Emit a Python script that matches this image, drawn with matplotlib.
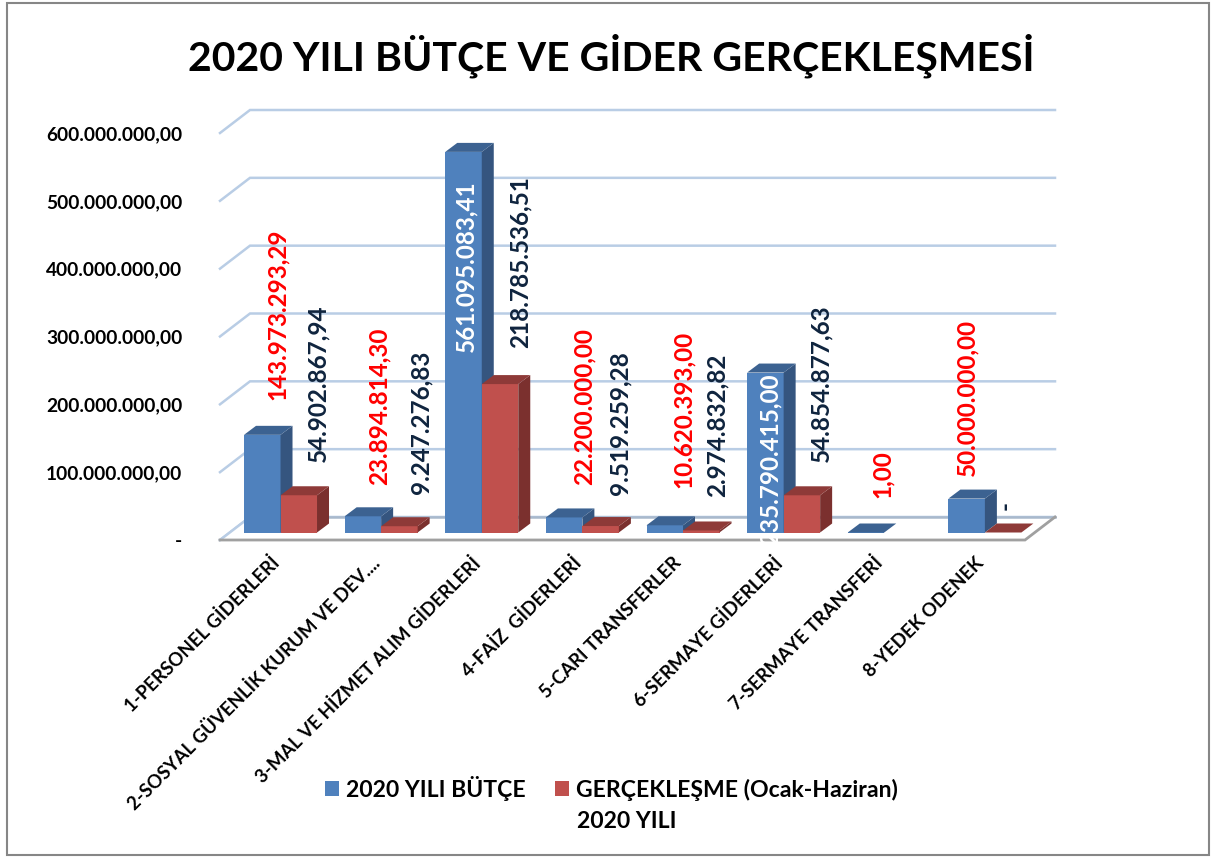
import numpy as np
import matplotlib
matplotlib.use("Agg")
import matplotlib.pyplot as plt
from matplotlib.patches import Patch, Polygon, Rectangle

categories = [
    "1-PERSONEL GİDERLERİ",
    "2-SOSYAL GÜVENLİK KURUM VE DEV....",
    "3-MAL VE HİZMET ALIM GİDERLERİ",
    "4-FAİZ  GİDERLERİ",
    "5-CARI TRANSFERLER",
    "6-SERMAYE GİDERLERİ",
    "7-SERMAYE TRANSFERİ",
    "8-YEDEK ODENEK",
]
butce = [143973293.29, 23894814.30, 561095083.41, 22200000.00,
         10620393.00, 235790415.00, 1.00, 50000000.00]
gerceklesme = [54902867.94, 9247276.83, 218785536.51, 9519259.28,
               2974832.82, 54854877.63, np.nan, 0.0]
butce_labels = ["143.973.293,29", "23.894.814,30", "561.095.083,41", "22.200.000,00",
                "10.620.393,00", "235.790.415,00", "1,00", "50.000.000,00"]
gercek_labels = ["54.902.867,94", "9.247.276,83", "218.785.536,51", "9.519.259,28",
                 "2.974.832,82", "54.854.877,63", "", "-"]
yticks = [0, 100e6, 200e6, 300e6, 400e6, 500e6, 600e6]
ytick_labels = ["-", "100.000.000,00", "200.000.000,00", "300.000.000,00",
                "400.000.000,00", "500.000.000,00", "600.000.000,00"]

# hand placed data labels, pixels from the top of the bar
butce_off = [(15, 35), (16, 31), (2, -200), (20, 32), (19, 37), (5, -172), (16, 34), (0, 23)]
gercek_off = [(19, 33), (22, 32), (20, 36), (19, 31), (16, 33), (19, 33), (0, 0), (2, 22)]

BLUE = ("#4f81bd", "#3c6291", "#35557f")
RED = ("#c0504d", "#8e3a38", "#7b302e")
GRID = "#b9cde5"
NAVY = "#0f243e"

W, H = 1217, 859
plt.rcParams["font.family"] = ["Lato", "DejaVu Sans"]
plt.rcParams["font.weight"] = "bold"

fig = plt.figure(figsize=(W / 100, H / 100), dpi=100)
left, right, top, bottom = 220, 1025, 133, 540
ax = fig.add_axes([left / W, 1 - bottom / H, (right - left) / W, (bottom - top) / H])
n = len(categories)
ax.set_xlim(-0.5, n - 0.5)
ax.set_ylim(0, 600e6)
for s in ax.spines.values():
    s.set_visible(False)
ax.patch.set_alpha(0)

px_x = n / (right - left)
px_y = 600e6 / (bottom - top)
back_x, back_y = 30 * px_x, 23 * px_y
dep_x, dep_y = 12 * px_x, 9 * px_y
shift_x, shift_y = 10.2 * px_x, 7.5 * px_y
bar_w = 36.5 * px_x

fig.add_artist(Rectangle((7 / W, 1 - 855 / H), 1202 / W, 852 / H, fill=False,
                         edgecolor="#868686", linewidth=1.5, transform=fig.transFigure))

x0, x1 = -0.5, n - 0.5
# walls
for t in yticks:
    ax.plot([x0, x0 + back_x, x1 + back_x], [t, t + back_y, t + back_y],
            color=GRID, lw=1.8, clip_on=False, zorder=1, solid_joinstyle="miter")
# floor
ax.add_patch(Polygon([(x0, 0), (x0 + back_x, back_y), (x1 + back_x, back_y), (x1, 0)],
                     closed=True, facecolor="white", edgecolor="none", clip_on=False, zorder=1.5))
ax.plot([x0, x0 + back_x], [0, back_y], color=GRID, lw=1.8, clip_on=False, zorder=1.6)
ax.plot([x0 + back_x, x1 + back_x], [back_y, back_y], color="#a9b9cc", lw=1.8, clip_on=False, zorder=1.6)
ax.plot([x0, x1, x1 + back_x], [0, 0, back_y], color="#a0a0a0", lw=2, clip_on=False, zorder=1.7,
        solid_joinstyle="miter")


def draw_bar(xl, v, cols, z):
    xr = xl + bar_w
    b = shift_y
    t = v + shift_y
    ax.add_patch(Polygon([(xl, b), (xr, b), (xr, t), (xl, t)], closed=True, facecolor=cols[0],
                         edgecolor="none", clip_on=False, zorder=z))
    ax.add_patch(Polygon([(xr, b), (xr + dep_x, b + dep_y), (xr + dep_x, t + dep_y), (xr, t)],
                         closed=True, facecolor=cols[2], edgecolor="none", clip_on=False, zorder=z))
    ax.add_patch(Polygon([(xl, t), (xr, t), (xr + dep_x, t + dep_y), (xl + dep_x, t + dep_y)],
                         closed=True, facecolor=cols[1], edgecolor="none", clip_on=False, zorder=z))


def draw_label(x, v, txt, off, color):
    ax.annotate(txt, xy=(x, v + shift_y), xytext=off, textcoords="offset pixels", rotation=90,
                ha="center", va="bottom", color=color, fontsize=17.5, annotation_clip=False, zorder=10)


for i in range(n):
    xb = i + shift_x - bar_w
    draw_bar(xb, butce[i], BLUE, 3 + i * 0.1)
    if not np.isnan(gerceklesme[i]):
        draw_bar(i + shift_x, gerceklesme[i], RED, 3.05 + i * 0.1)
    draw_label(xb + bar_w / 2, butce[i], butce_labels[i], butce_off[i],
               "white" if butce_off[i][1] < 0 else "#ff0000")
    if gercek_labels[i]:
        v = 0 if np.isnan(gerceklesme[i]) else gerceklesme[i]
        draw_label(i + shift_x + bar_w / 2, v, gercek_labels[i], gercek_off[i], NAVY)

ax.set_yticks(yticks, ytick_labels, fontsize=13.8)
ax.set_xticks(range(n), categories, fontsize=13.4, rotation=45, ha="right", rotation_mode="anchor")
ax.tick_params(axis="y", length=0, pad=27)
ax.tick_params(axis="x", length=0, pad=10)

fig.text(611 / W, 1 - 56 / H, "2020 YILI BÜTÇE VE GİDER GERÇEKLEŞMESİ", ha="center", va="center",
         fontsize=29.5, color="black")

handles = [Patch(facecolor=BLUE[0]), Patch(facecolor=RED[0])]
ax.legend(handles, ["2020 YILI BÜTÇE", "GERÇEKLEŞME (Ocak-Haziran)"], ncol=2, frameon=False,
          fontsize=16.6, loc="upper left", bbox_to_anchor=(325 / W, 1 - 776 / H),
          bbox_transform=fig.transFigure, handlelength=0.62, handleheight=0.62,
          handletextpad=0.3, columnspacing=1.25, borderpad=0, borderaxespad=0)
fig.text(577 / W, 1 - 821 / H, "2020 YILI", ha="left", va="center", fontsize=16.6, color="black")

fig.savefig("out.png", dpi=100)
